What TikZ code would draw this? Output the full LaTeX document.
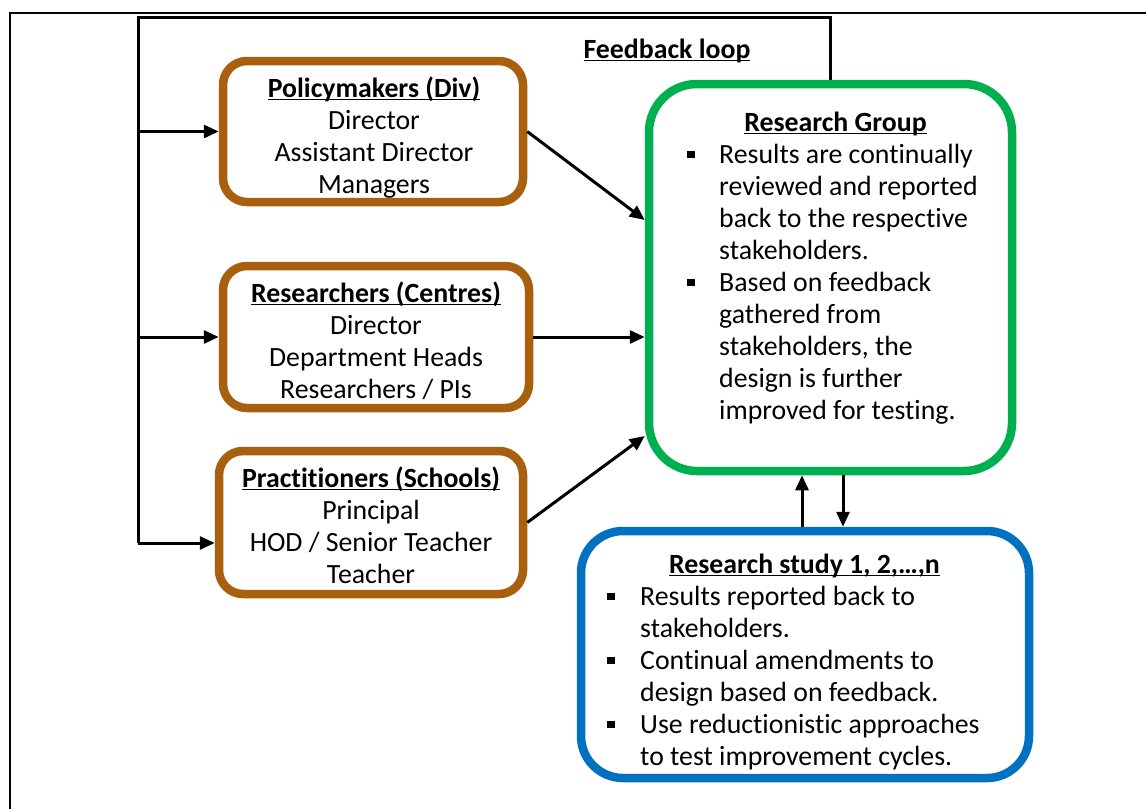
\documentclass[tikz,border=0pt]{standalone}
\usepackage{fontspec}
\setmainfont{Carlito}[Ligatures={NoCommon,NoRare}]
\usetikzlibrary{arrows.meta,calc}
\definecolor{stakebrown}{RGB}{168,96,14}
\definecolor{groupgreen}{RGB}{0,176,80}
\definecolor{studyblue}{RGB}{0,112,192}
% fixed-depth underline for headings
\newcommand\myul[1]{\setbox0=\hbox{#1}\rlap{\rule[-3pt]{\wd0}{1.5pt}}\box0}
\newcommand\ttl[1]{\textbf{\myul{#1}}}
\newcommand\bul{\raisebox{5pt}{\rule{7.5pt}{7.5pt}}}
\begin{document}
\begin{tikzpicture}[x=1pt,y=-1pt,
  txt/.style={inner sep=0pt,font=\fontsize{27.8}{32}\selectfont},
  stake/.style={draw=stakebrown,line width=8.5pt,rounded corners=24pt,fill=white},
  groupbox/.style={draw=groupgreen,line width=8.5pt,rounded corners=48pt,fill=white},
  studybox/.style={draw=studyblue,line width=8.5pt,rounded corners=42pt,fill=white},
  conn/.style={line width=3pt,black},
  arr/.style={conn,-{Triangle[length=15pt,width=13pt]}}]
\useasboundingbox (0,0) rectangle (1146,809);
\fill[white] (0,0) rectangle (1146,809);
% page frame
\coordinate (frBL) at (10,809);
\coordinate (frTL) at (10,13);
\coordinate (frTR) at (1146,13);
\draw[line width=2.4pt] (frBL) -- (frTL) -- (frTR);

% boxes
\node[stake,minimum width=300pt,minimum height=141pt] (pm) at (373,131.5) {};
\node[stake,minimum width=306pt,minimum height=142pt] (rs) at (376,337) {};
\node[stake,minimum width=304pt,minimum height=143pt] (pr) at (371,522.5) {};
\node[groupbox,minimum width=363pt,minimum height=387pt] (rg) at (830.5,277.5) {};
\node[studybox,minimum width=448pt,minimum height=247pt] (rb) at (805,654.5) {};

% stakeholder texts
\node[txt,anchor=base] (pmt) at (374,97) {\begin{tabular}[t]{@{}c@{}}\ttl{Policymakers (Div)}\\ Director\\ Assistant Director\\ Managers\end{tabular}};
\node[txt,anchor=base] (rst) at (376,302) {\begin{tabular}[t]{@{}c@{}}\ttl{Researchers (Centres)}\\ Director\\ Department Heads\\ Researchers / PIs\end{tabular}};
\node[txt,anchor=base] (prt) at (371,487) {\begin{tabular}[t]{@{}c@{}}\ttl{Practitioners (Schools)}\\ Principal\\ HOD / Senior Teacher\\ Teacher\end{tabular}};

% research group text
\node[txt,anchor=base] (rgt) at (835.5,131) {\ttl{Research Group}};
\node[txt,anchor=base west] (rgl) at (687,163) {\begin{tabular}[t]{@{}p{32pt}@{}l@{}}
\bul & Results are continually\\
 & reviewed and reported\\
 & back to the respective\\
 & stakeholders.\\
\bul & Based on feedback\\
 & gathered from\\
 & stakeholders, the\\
 & design is further\\
 & improved for testing.
\end{tabular}};

% research study text
\node[txt,anchor=base] (rbt) at (804.5,573) {\ttl{Research study 1, 2,…,n}};
\node[txt,anchor=base west] (rbl) at (607,605) {\begin{tabular}[t]{@{}p{33pt}@{}l@{}}
\bul & Results reported back to\\
 & stakeholders.\\
\bul & Continual amendments to\\
 & design based on feedback.\\
\bul & Use reductionistic approaches\\
 & to test improvement cycles.
\end{tabular}};

% feedback loop label
\node[txt,anchor=base] (fbt) at (667,58) {\ttl{Feedback loop}};

% feedback loop trunk
\coordinate (fbL) at (138,17);
\coordinate (j1) at (138,131.5);
\coordinate (j2) at (138,337);
\coordinate (j3) at (138,543);
\draw[conn] (rg.north) |- (fbL) -- (j3);
\draw[arr] (j1) -- (pm.west);
\draw[arr] (j2) -- (rs.west);
\draw[arr] (j3) -- (j3 -| pr.west);

% stakeholders into the research group
\draw[arr] (pm.east) -- ($(rg.west)+(0,-57.5)$);
\draw[arr] (rs.east) -- (rs.east -| rg.west);
\draw[arr] (pr.east) -- ($(rg.west)+(0,158.5)$);

% exchange between group and studies
\coordinate (upx) at (802,0);
\coordinate (dnx) at (843,0);
\draw[arr] (upx |- rb.north) -- (upx |- rg.south);
\draw[arr] (dnx |- rg.south) -- (dnx |- rb.north);
\end{tikzpicture}
\end{document}
